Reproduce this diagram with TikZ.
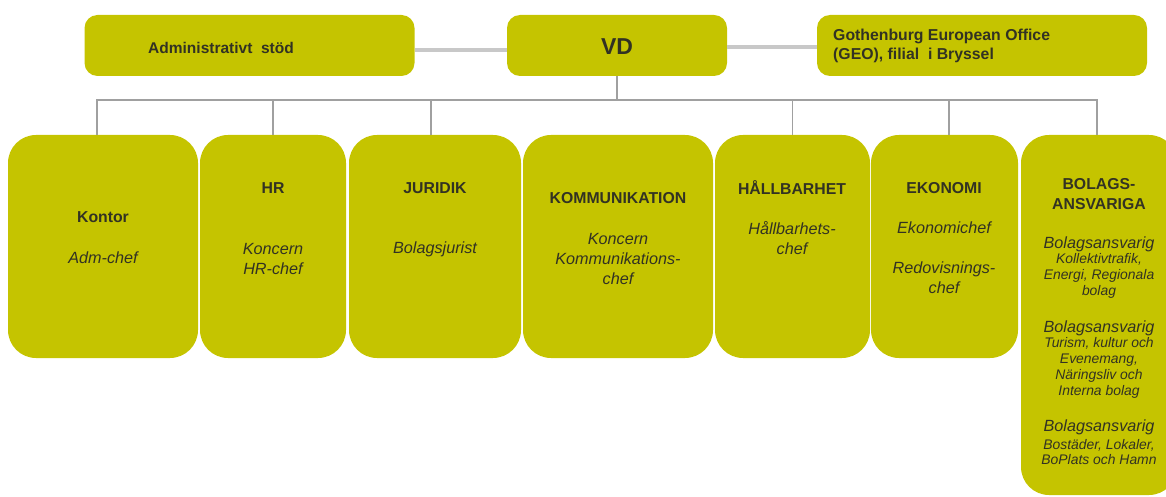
\documentclass[tikz,border=0pt]{standalone}
\usepackage{fontspec}
\setmainfont{Liberation Sans}
\definecolor{boxc}{RGB}{197,196,0}
\definecolor{txt}{RGB}{50,50,35}
\definecolor{conn}{RGB}{160,160,160}
\definecolor{topconn}{RGB}{200,200,200}
\begin{document}
\begin{tikzpicture}[x=1pt,y=-1pt,
  topbox/.style={fill=boxc, rounded corners=13pt, inner sep=0pt, minimum height=61pt},
  unitbox/.style={fill=boxc, rounded corners=28pt, inner sep=0pt},
  ttl/.style={font=\bfseries\fontsize{15.8}{19.5}\selectfont, text=txt, align=center, inner sep=0pt},
  sub/.style={font=\itshape\fontsize{16.2}{20}\selectfont, text=txt, align=center, inner sep=0pt},
  small/.style={font=\itshape\fontsize{13.9}{15.8}\selectfont, text=txt, align=center, inner sep=0pt},
  connline/.style={draw=conn, line width=1.5pt},
  topline/.style={draw=topconn, line width=4pt}]
\clip (0,0) rectangle (1166,497);
% top row
\node[topbox, minimum width=330pt] (admin) at (249.5,45.5) {};
\node[topbox, minimum width=220pt] (vd) at (617,45.5) {};
\node[topbox, minimum width=330pt] (geo) at (982,45.5) {};
\node[ttl, font=\bfseries\fontsize{15.5}{18}\selectfont] (admintxt) at (221,48) {Administrativt\ \ stöd};
\node[ttl, font=\bfseries\fontsize{23}{28}\selectfont] (vdtxt) at (617,46.5) {VD};
\node[ttl, align=left, anchor=west] (geotxt) at (833,46) {Gothenburg European Office\\(GEO), filial\ \ i Bryssel};
\draw[topline] ([yshift=-5pt]admin.east) -- ([yshift=-5pt]vd.west);
\draw[topline] ([yshift=-1.5pt]vd.east) -- ([yshift=-1.5pt]geo.west);
% unit boxes
\node[unitbox, minimum width=190pt, minimum height=223pt] (kontor) at (103,246.5) {};
\node[unitbox, minimum width=146pt, minimum height=223pt] (hr) at (273,246.5) {};
\node[unitbox, minimum width=172pt, minimum height=223pt] (jur) at (435,246.5) {};
\node[unitbox, minimum width=190pt, minimum height=223pt] (komm) at (618,246.5) {};
\node[unitbox, minimum width=155pt, minimum height=223pt] (hall) at (792.5,246.5) {};
\node[unitbox, minimum width=147pt, minimum height=223pt] (ekon) at (944.5,246.5) {};
\node[unitbox, minimum width=156pt, minimum height=360pt] (bolag) at (1099,315) {};
% connectors
\coordinate (bus) at (617,100);
\draw[connline] (vd.south) -- (bus);
\draw[connline] ([xshift=-6pt]kontor.north) |- (bus) -| ([xshift=-2pt]bolag.north);
\draw[connline] (hr.north) -- (hr.north |- bus);
\draw[connline] ([xshift=-4pt]jur.north) -- ([xshift=-4pt]jur.north |- bus);
\draw[connline] (hall.north) -- (hall.north |- bus);
\draw[connline] ([xshift=4.5pt]ekon.north) -- ([xshift=4.5pt]ekon.north |- bus);
% texts
\node[ttl] (t1) at (103,217) {Kontor};
\node[sub] (s1) at (103,258) {Adm-chef};
\node[ttl] (t2) at (273,188) {HR};
\node[sub] (s2) at (273,259) {Koncern\\HR-chef};
\node[ttl] (t3) at (435,188) {JURIDIK};
\node[sub] (s3) at (435,249) {Bolagsjurist};
\node[ttl] (t4) at (618,198) {KOMMUNIKATION};
\node[sub] (s4) at (618,259) {Koncern\\Kommunikations-\\chef};
\node[ttl] (t5) at (792,188) {HÅLLBARHET};
\node[sub] (s5) at (792,238) {Hållbarhets-\\chef};
\node[ttl] (t6) at (944,188) {EKONOMI};
\node[sub] (s6a) at (944,228) {Ekonomichef};
\node[sub] (s6b) at (944,278) {Redovisnings-\\chef};
\node[ttl] (t7) at (1099,194) {BOLAGS-\\ANSVARIGA};
\node[sub] (b1) at (1099,244) {Bolagsansvarig};
\node[small] (b1s) at (1099,276) {Kollektivtrafik,\\Energi, Regionala\\bolag};
\node[sub] (b2) at (1099,328) {Bolagsansvarig};
\node[small] (b2s) at (1099,368) {Turism, kultur och\\Evenemang,\\Näringsliv och\\Interna bolag};
\node[sub] (b3) at (1099,427) {Bolagsansvarig};
\node[small] (b3s) at (1099,452) {Bostäder, Lokaler,\\BoPlats och Hamn};
\end{tikzpicture}
\end{document}
